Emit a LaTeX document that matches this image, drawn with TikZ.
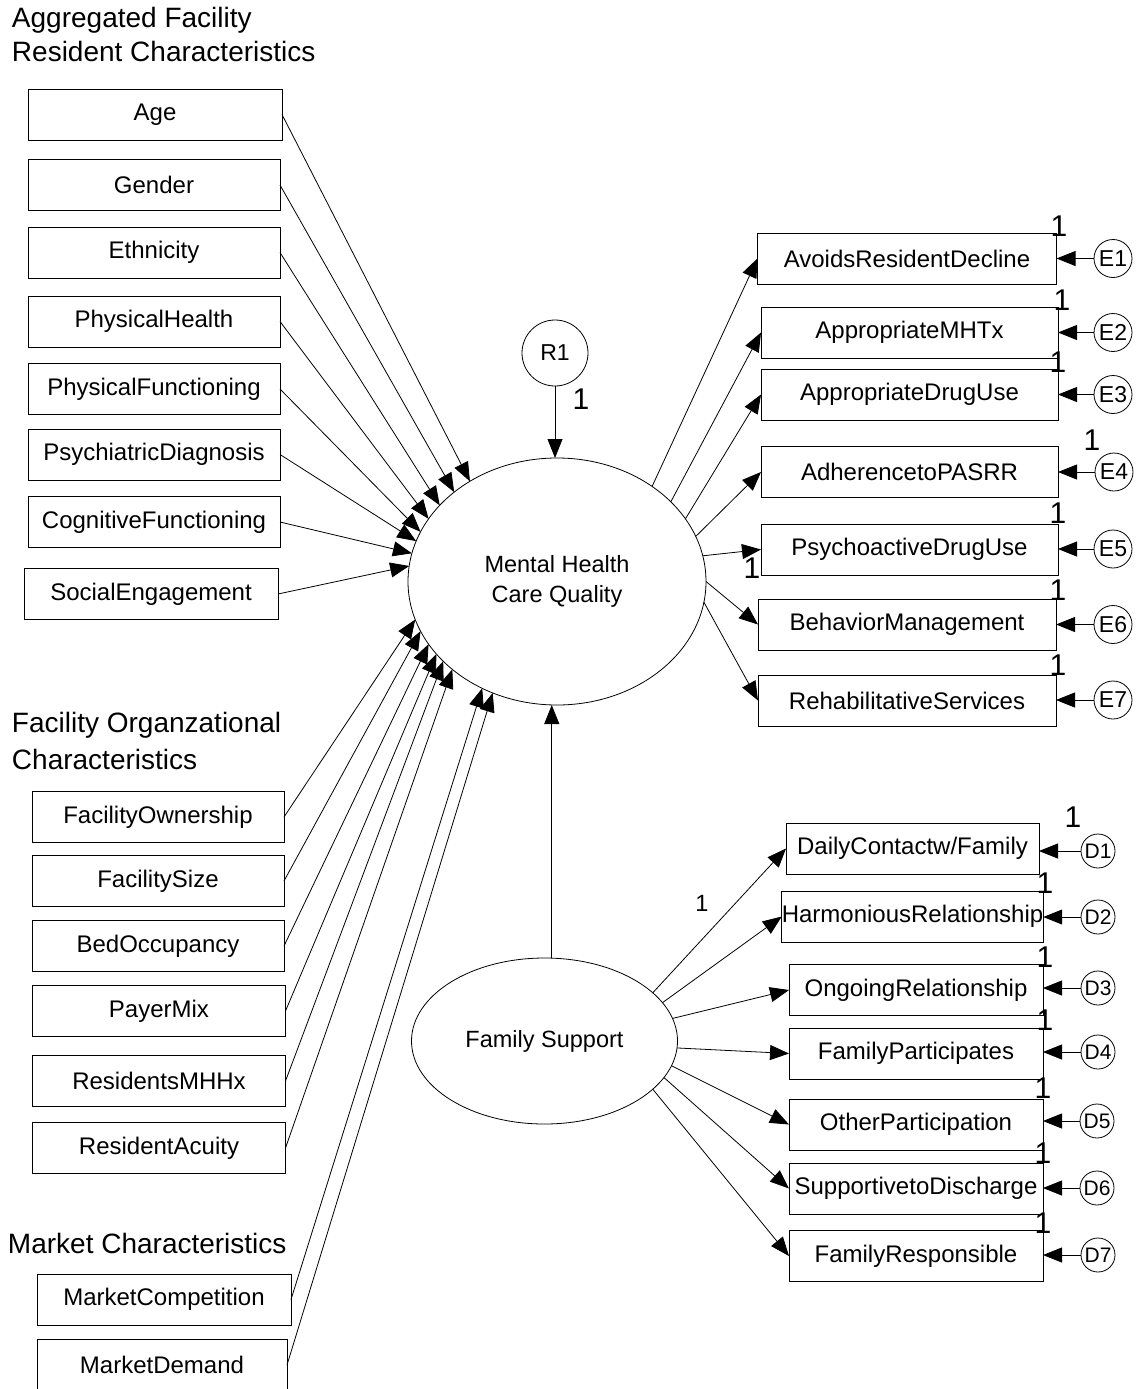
\documentclass[tikz,border=0pt]{standalone}
\usepackage{fontspec}
\setmainfont{Liberation Sans}
\usetikzlibrary{arrows.meta,shapes.geometric}
\begin{document}
\begin{tikzpicture}[x=1pt,y=-1pt,
  every node/.style={inner sep=0pt, outer sep=0pt},
  box/.style={draw, line width=0.8pt, minimum height=51pt, font=\fontsize{24}{28}\selectfont},
  lat/.style={draw, ellipse, line width=0.8pt, font=\fontsize{23.5}{30}\selectfont, align=center},
  err/.style={draw, circle, line width=0.8pt, minimum size=38pt, font=\fontsize{23}{26}\selectfont},
  derr/.style={draw, circle, line width=0.8pt, minimum size=34pt, font=\fontsize{21}{26}\selectfont},
  one/.style={font=\fontsize{30}{32}\selectfont},
  head/.style={anchor=base west, align=left, font=\fontsize{28}{34}\selectfont},
  arr/.style={-{Triangle[length=19pt,width=15pt]}, line width=0.8pt},
]
\useasboundingbox (0,0) rectangle (1140,1389);

% headings (base anchor = baseline of last line)
\node[head] (h1) at (12,62) {Aggregated Facility\\Resident Characteristics};
\node[head,font=\fontsize{28}{37.5}\selectfont] (h2) at (12,769.5) {Facility Organzational\\Characteristics};
\node[head] (h3) at (8,1253) {Market Characteristics};

% resident characteristics
\node[box, minimum width=254pt] (age) at (155,114.5) {Age};
\node[box, minimum width=252pt] (gen) at (154,185) {Gender};
\node[box, minimum width=252pt] (eth) at (154,252.5) {Ethnicity};
\node[box, minimum width=252pt] (phh) at (154,321.5) {PhysicalHealth};
\node[box, minimum width=252pt] (phf) at (154,389) {PhysicalFunctioning};
\node[box, minimum width=252pt] (psy) at (154,454.5) {PsychiatricDiagnosis};
\node[box, minimum width=252pt] (cog) at (154,522) {CognitiveFunctioning};
\node[box, minimum width=254pt] (soc) at (151,594) {SocialEngagement};

% facility characteristics
\node[box, minimum width=252pt] (own) at (158,817) {FacilityOwnership};
\node[box, minimum width=252pt] (siz) at (158,881) {FacilitySize};
\node[box, minimum width=252pt] (bed) at (158,946) {BedOccupancy};
\node[box, minimum width=253pt] (pay) at (159,1011) {PayerMix};
\node[box, minimum width=253pt] (mhh) at (159,1081) {ResidentsMHHx};
\node[box, minimum width=253pt] (acu) at (159,1148) {ResidentAcuity};

% market characteristics
\node[box, minimum width=254pt] (mco) at (164,1299.5) {MarketCompetition};
\node[box, minimum width=250pt] (mde) at (162,1365) {MarketDemand};

% latent variables
\node[lat, minimum width=298pt, minimum height=247pt] (mhcq) at (557,581.5) {Mental Health\\Care Quality};
\node[draw, circle, line width=0.8pt, minimum size=66pt, font=\fontsize{23}{26}\selectfont] (r1) at (555,353) {R1};
\node[lat, minimum width=266pt, minimum height=166pt] (fs) at (544.5,1041) {Family Support};

% quality indicators
\node[box, minimum width=299pt] (avd) at (907,258.5) {AvoidsResidentDecline};
\node[box, minimum width=297pt] (mht) at (909.5,332.5) {AppropriateMHTx};
\node[box, minimum width=297pt] (dru) at (909.5,394.5) {AppropriateDrugUse};
\node[box, minimum width=297pt] (pas) at (909.5,472) {AdherencetoPASRR};
\node[box, minimum width=297pt] (psd) at (909.5,549.5) {PsychoactiveDrugUse};
\node[box, minimum width=298pt] (beh) at (907,624.5) {BehaviorManagement};
\node[box, minimum width=298pt] (reh) at (907,700.5) {RehabilitativeServices};

\node[err] (e1) at (1113,258.5) {E1};
\node[err] (e2) at (1113,332.5) {E2};
\node[err] (e3) at (1113,394.5) {E3};
\node[err] (e4) at (1114,472) {E4};
\node[err] (e5) at (1113,549) {E5};
\node[err] (e6) at (1113,624.5) {E6};
\node[err] (e7) at (1113,700) {E7};

% family indicators
\node[box, minimum width=253pt] (dcf) at (912.5,848.5) {DailyContactw/Family};
\node[box, minimum width=253pt] (har) at (912.5,916.5) {HarmoniousRelationship};
\node[box, minimum width=254pt] (ong) at (916,990) {OngoingRelationship};
\node[box, minimum width=254pt] (fpa) at (916,1053.5) {FamilyParticipates};
\node[box, minimum width=254pt] (oth) at (916,1124.5) {OtherParticipation};
\node[box, minimum width=254pt] (sup) at (916,1188.5) {SupportivetoDischarge};
\node[box, minimum width=254pt] (fre) at (916,1256) {FamilyResponsible};

\node[derr] (d1) at (1098,851) {D1};
\node[derr] (d2) at (1098,917) {D2};
\node[derr] (d3) at (1098,988) {D3};
\node[derr] (d4) at (1098,1052) {D4};
\node[derr] (d5) at (1097,1121) {D5};
\node[derr] (d6) at (1097,1188) {D6};
\node[derr] (d7) at (1098,1255) {D7};

% fixed-parameter labels
\node[one] (n0) at (581,399) {1};
\node[one] (n1) at (1059,226) {1};
\node[one] (n2) at (1062,300) {1};
\node[one] (n3) at (1058,362) {1};
\node[one] (n4) at (1092,440) {1};
\node[one] (n5) at (1058,513) {1};
\node[one] (n5b) at (752,568) {1};
\node[one] (n6) at (1058,590) {1};
\node[one] (n7) at (1058,665) {1};
\node[one] (m1) at (1073,817) {1};
\node[one] (m2) at (1045,883) {1};
\node[one] (m3) at (1045,957) {1};
\node[one] (m4) at (1045,1020) {1};
\node[one] (m5) at (1043,1088) {1};
\node[one] (m6) at (1043,1153) {1};
\node[one] (m7) at (1043,1223) {1};
\node[font=\fontsize{23.5}{28}\selectfont] (f1) at (702,903) {1};

% predictors -> MHCQ
\draw[arr] (age.east) -- (mhcq.131);
\draw[arr] (gen.east) -- (mhcq.139);
\draw[arr] (eth.east) -- (mhcq.147);
\draw[arr] (phh.east) -- (mhcq.154);
\draw[arr] (phf.east) -- (mhcq.160);
\draw[arr] (psy.east) -- (mhcq.164);
\draw[arr] (cog.east) -- (mhcq.169);
\draw[arr] (soc.east) -- (mhcq.174);
\draw[arr] (own.east) -- (mhcq.195);
\draw[arr] (siz.east) -- (mhcq.200);
\draw[arr] (bed.east) -- (mhcq.206);
\draw[arr] (pay.east) -- (mhcq.211);
\draw[arr] (mhh.east) -- (mhcq.215);
\draw[arr] (acu.east) -- (mhcq.220);
\draw[arr] (mco.east) -- (mhcq.235);
\draw[arr] (mde.east) -- (mhcq.240);

% R1 and family support
\draw[arr] (r1) -- (r1 |- mhcq.north);
\draw[arr] (fs.85) -- (fs.85 |- mhcq.south);

% MHCQ -> indicators
\draw[arr] (mhcq.45) -- (avd.west);
\draw[arr] (mhcq.35) -- (mht.west);
\draw[arr] (mhcq.26) -- (dru.west);
\draw[arr] (mhcq.18) -- (pas.west);
\draw[arr] (mhcq.10) -- (psd.west);
\draw[arr] (mhcq.0) -- (beh.west);
\draw[arr] (mhcq.352) -- (reh.west);

% errors -> indicators
\draw[arr] (e1) -- (e1 -| avd.east);
\draw[arr] (e2) -- (e2 -| mht.east);
\draw[arr] (e3) -- (e3 -| dru.east);
\draw[arr] (e4) -- (e4 -| pas.east);
\draw[arr] (e5) -- (e5 -| psd.east);
\draw[arr] (e6) -- (e6 -| beh.east);
\draw[arr] (e7) -- (e7 -| reh.east);

% FS -> indicators
\draw[arr] (fs.24) -- (dcf.west);
\draw[arr] (fs.18) -- (har.west);
\draw[arr] (fs.10) -- (ong.west);
\draw[arr] (fs.357) -- (fpa.west);
\draw[arr] (fs.349) -- (oth.west);
\draw[arr] (fs.343) -- (sup.west);
\draw[arr] (fs.336) -- (fre.west);

% family errors
\draw[arr] (d1) -- (d1 -| dcf.east);
\draw[arr] (d2) -- (d2 -| har.east);
\draw[arr] (d3) -- (d3 -| ong.east);
\draw[arr] (d4) -- (d4 -| fpa.east);
\draw[arr] (d5) -- (d5 -| oth.east);
\draw[arr] (d6) -- (d6 -| sup.east);
\draw[arr] (d7) -- (d7 -| fre.east);
\end{tikzpicture}
\end{document}
